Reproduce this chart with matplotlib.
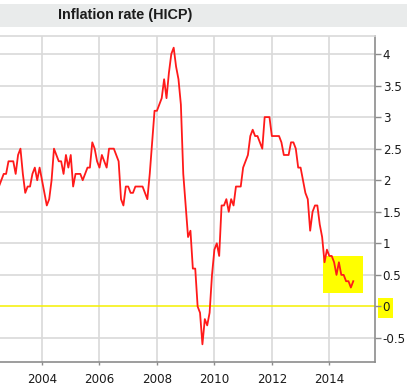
import matplotlib
matplotlib.use("Agg")
import matplotlib.pyplot as plt
from matplotlib.patches import Rectangle
import numpy as np

# Euro area HICP annual rate (%), monthly, from June 2002 to October 2014
start_year = 2002
start_month = 6
values = [
    1.9, 2.0, 2.1, 2.1, 2.3, 2.3, 2.3,                                  # 2002 Jun-Dec
    2.1, 2.4, 2.5, 2.1, 1.8, 1.9, 1.9, 2.1, 2.2, 2.0, 2.2, 2.0,          # 2003
    1.8, 1.6, 1.7, 2.0, 2.5, 2.4, 2.3, 2.3, 2.1, 2.4, 2.2, 2.4,          # 2004
    1.9, 2.1, 2.1, 2.1, 2.0, 2.1, 2.2, 2.2, 2.6, 2.5, 2.3, 2.2,          # 2005
    2.4, 2.3, 2.2, 2.5, 2.5, 2.5, 2.4, 2.3, 1.7, 1.6, 1.9, 1.9,          # 2006
    1.8, 1.8, 1.9, 1.9, 1.9, 1.9, 1.8, 1.7, 2.1, 2.6, 3.1, 3.1,          # 2007
    3.2, 3.3, 3.6, 3.3, 3.7, 4.0, 4.1, 3.8, 3.6, 3.2, 2.1, 1.6,          # 2008
    1.1, 1.2, 0.6, 0.6, 0.0, -0.1, -0.6, -0.2, -0.3, -0.1, 0.5, 0.9,     # 2009
    1.0, 0.8, 1.6, 1.6, 1.7, 1.5, 1.7, 1.6, 1.9, 1.9, 1.9, 2.2,          # 2010
    2.3, 2.4, 2.7, 2.8, 2.7, 2.7, 2.6, 2.5, 3.0, 3.0, 3.0, 2.7,          # 2011
    2.7, 2.7, 2.7, 2.6, 2.4, 2.4, 2.4, 2.6, 2.6, 2.5, 2.2, 2.2,          # 2012
    2.0, 1.8, 1.7, 1.2, 1.5, 1.6, 1.6, 1.3, 1.1, 0.7, 0.9, 0.8,          # 2013
    0.8, 0.7, 0.5, 0.7, 0.5, 0.5, 0.4, 0.4, 0.3, 0.4,                    # 2014 Jan-Oct
]
x_ticks = [2004, 2006, 2008, 2010, 2012, 2014]
x_tick_labels = ["2004", "2006", "2008", "2010", "2012", "2014"]
y_ticks = [-0.5, 0, 0.5, 1, 1.5, 2, 2.5, 3, 3.5, 4]
y_tick_labels = ["-0.5", "0", "0.5", "1", "1.5", "2", "2.5", "3", "3.5", "4"]
title = "Inflation rate (HICP)"
highlight_x = (2013.78, 2015.17)
highlight_y = (0.21, 0.80)

# time axis: month-end positions
months = np.arange(len(values)) + start_month
t = start_year + months / 12.0

W, H = 407, 388
fig = plt.figure(figsize=(W / 100, H / 100), dpi=100)
fig.patch.set_facecolor("white")

# title band
fig.patches.append(Rectangle((0, 1 - 27 / H), 1, 23 / H, transform=fig.transFigure,
                             facecolor="#e9ebeb", edgecolor="none", zorder=-2))
fig.text(58 / W, 1 - 15.5 / H, title, ha="left", va="center",
         fontsize=10.4, fontweight="bold", family=["Liberation Sans", "DejaVu Sans"],
         color="#1c1c1c")

ax = fig.add_axes([0, 1 - 362 / H, 375 / W, (362 - 36) / H])
ax.set_xlim(2002.538, 2015.59)
ax.set_ylim(-0.88, 4.285)

ax.set_xticks(x_ticks)
ax.set_xticklabels(x_tick_labels)
ax.set_yticks(y_ticks)
ax.set_yticklabels(y_tick_labels)
ax.yaxis.tick_right()

for lbl in ax.get_xticklabels() + ax.get_yticklabels():
    lbl.set_family("DejaVu Sans")
    lbl.set_fontsize(8.6)
    lbl.set_color("#1a1a1a")

ax.tick_params(axis="x", length=2.5, width=1, color="#8c8c8c", pad=5.2, direction="out")
ax.tick_params(axis="y", right=True, left=False, length=4, width=1, color="#8c8c8c",
               pad=1.5, direction="out")

# grid
for yv in y_ticks:
    if yv != 0:
        ax.axhline(yv, color="#d9d9d9", lw=1.2, zorder=0)
for xv in x_ticks:
    ax.axvline(xv, color="#d9d9d9", lw=1.2, zorder=0)

# zero line
ax.axhline(0, color="#f5f000", lw=1.1, zorder=1)

# highlight rectangle
ax.add_patch(Rectangle((highlight_x[0], highlight_y[0]),
                       highlight_x[1] - highlight_x[0], highlight_y[1] - highlight_y[0],
                       facecolor="#ffff00", edgecolor="none", zorder=2))

ax.plot(t, values, color="#ff1a1a", lw=1.3, zorder=3, solid_joinstyle="round")

# spines
ax.spines["left"].set_visible(False)
ax.spines["top"].set_color("#d9d9d9")
ax.spines["right"].set_color("#8c8c8c")
ax.spines["bottom"].set_color("#8c8c8c")
for s in ax.spines.values():
    s.set_linewidth(1.2)

# yellow box behind the "0" tick label
fig.patches.append(Rectangle((378 / W, 1 - 318 / H), 15 / W, 20 / H, transform=fig.transFigure,
                             facecolor="#ffff00", edgecolor="none", zorder=-1))

fig.savefig("out.png", dpi=100)
